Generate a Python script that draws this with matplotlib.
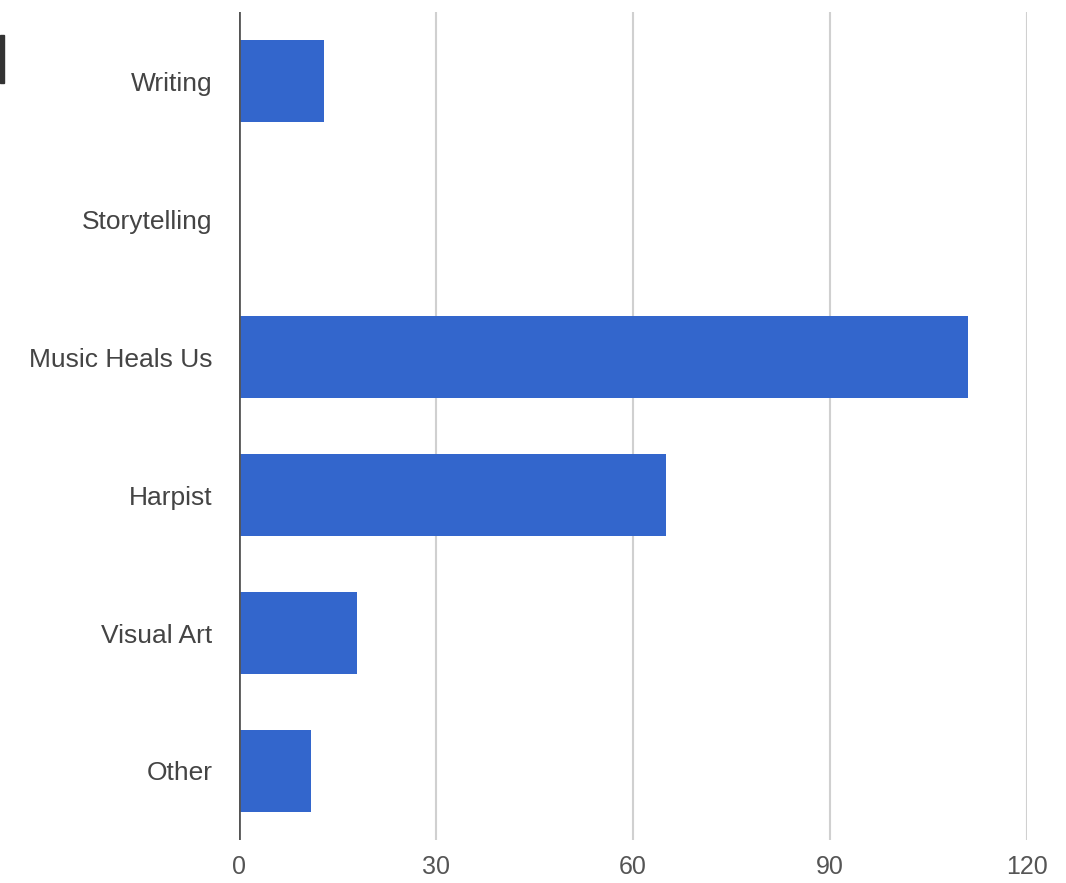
import matplotlib.pyplot as plt
from matplotlib.patches import Rectangle

# Datos del gráfico
categorias = ["Writing", "Storytelling", "Music Heals Us", "Harpist", "Visual Art", "Other"]
valores = [13, 0, 111, 65, 18, 11]
ticks_x = [0, 30, 60, 90, 120]

plt.rcParams['font.family'] = ['Liberation Sans', 'DejaVu Sans']

fig = plt.figure(figsize=(10.66, 8.83), dpi=100)
ax = fig.add_axes([0.2242, 0.0487, 0.7392, 0.9377])

ax.barh(range(len(categorias)), valores, height=0.6, color='#3366cc', zorder=3)

ax.set_ylim(len(categorias) - 0.5, -0.5)
ax.set_xlim(0, 120)
ax.set_yticks(range(len(categorias)))
ax.set_yticklabels(categorias)
ax.set_xticks(ticks_x)
ax.set_xticklabels([str(t) for t in ticks_x])

ax.tick_params(axis='y', length=0, pad=19, labelsize=19, labelcolor='#444444')
ax.tick_params(axis='x', length=0, pad=11, labelsize=18, labelcolor='#555555')

ax.grid(axis='x', color='#d0d0d0', linewidth=1.5, zorder=0)
ax.axvline(0, color='#555555', linewidth=2, zorder=4)
for s in ax.spines.values():
    s.set_visible(False)

# Marca oscura en la esquina superior izquierda
fig.patches.append(Rectangle((0, 1 - 83 / 883), 4 / 1066, 48 / 883,
                             transform=fig.transFigure, color='#333333'))

fig.savefig('out.png', dpi=100)
